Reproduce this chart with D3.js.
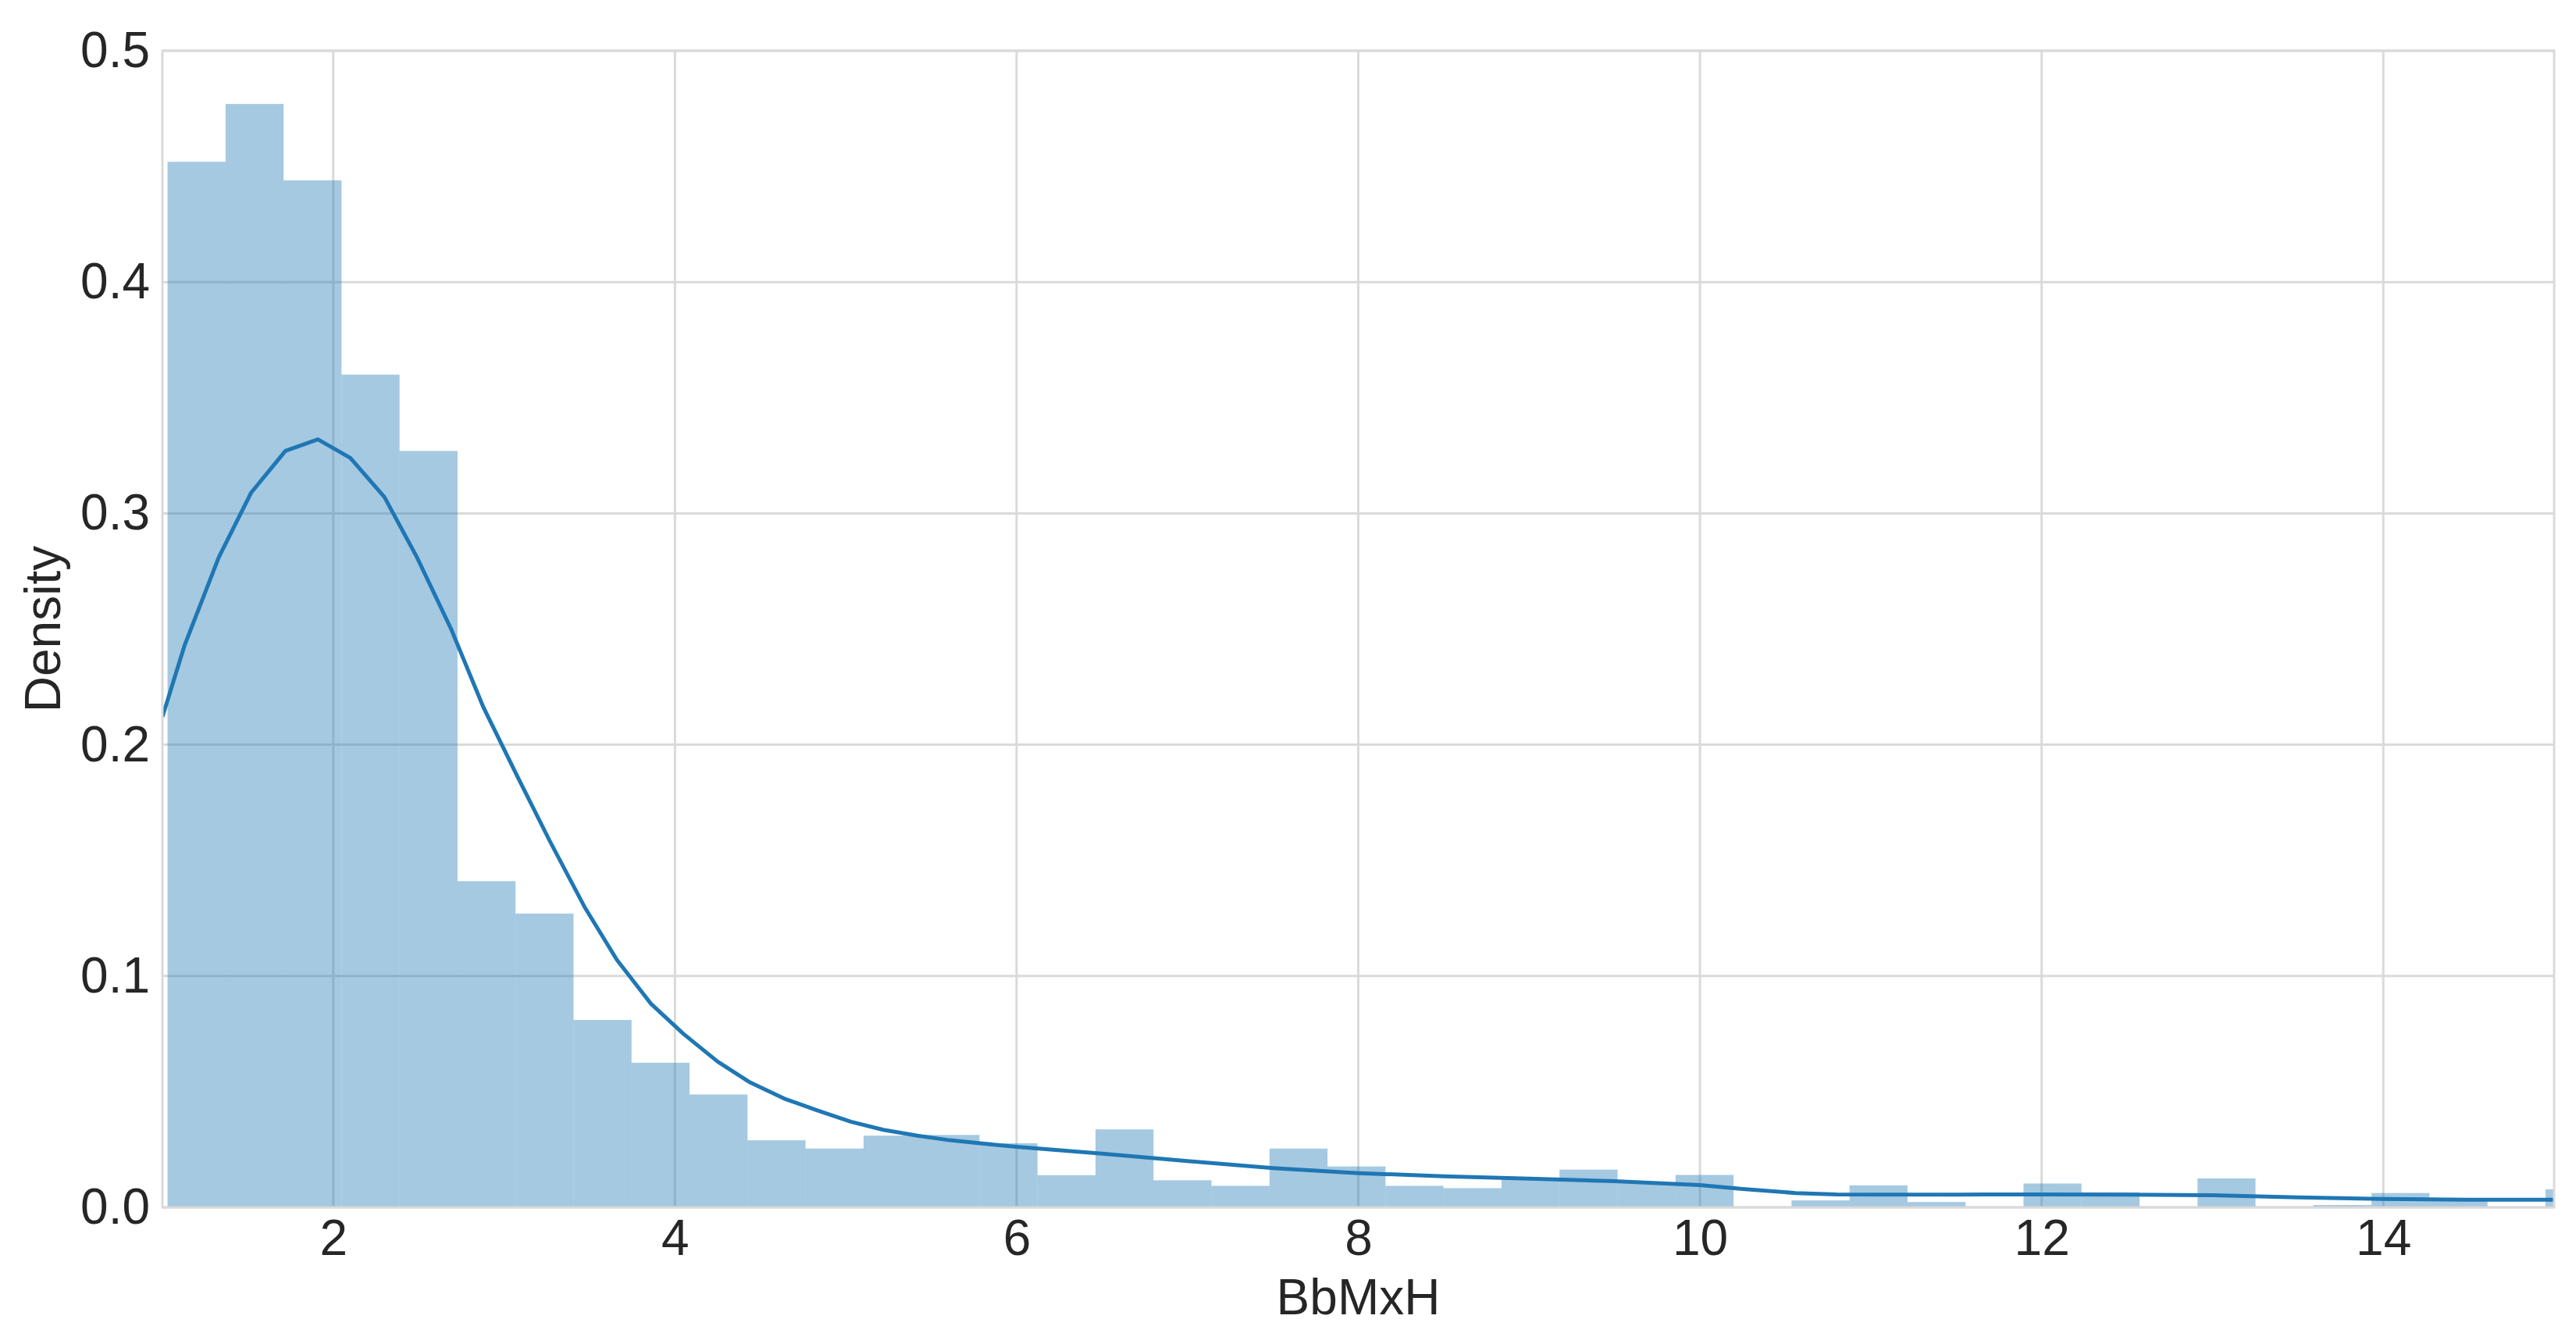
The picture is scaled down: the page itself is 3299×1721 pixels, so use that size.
<!DOCTYPE html>
<html>
<head>
<meta charset="utf-8">
<script src="https://cdn.jsdelivr.net/npm/d3@7"></script>
<style>
  body { margin: 0; background: #fff; }
  text { font-family: "Liberation Sans", Arial, sans-serif; fill: #262626; }
</style>
</head>
<body>
<script>
// histogram: equal-width bins starting at binStart
const binStart = 1.03;
const binWidth = 0.3395;
const binDensity = [
  0.452, 0.477, 0.444, 0.360, 0.327, 0.141, 0.127, 0.081, 0.0625, 0.0488,
  0.029, 0.0254, 0.031, 0.0313, 0.0277, 0.0139, 0.0337, 0.0117, 0.0093, 0.0254,
  0.0177, 0.0093, 0.0083, 0.012, 0.0163, 0.0105, 0.014, 0, 0.003, 0.0095,
  0.0023, 0, 0.0103, 0.0065, 0, 0.0125, 0, 0.001, 0.0062, 0.003,
  0, 0.0078
];

// kde curve
const kdeX = [1.0, 1.13, 1.33, 1.52, 1.72, 1.91, 2.10, 2.30, 2.49, 2.69, 2.88, 3.08,
  3.27, 3.47, 3.66, 3.86, 4.05, 4.25, 4.44, 4.64, 4.83, 5.03, 5.22, 5.42, 5.61, 5.81,
  6.0, 6.5, 7.0, 7.5, 8.0, 8.5, 9.0, 9.5, 10.0, 10.25, 10.56, 10.8, 11.5, 12.0, 12.5,
  13.0, 13.5, 14.0, 14.5, 15.0];
const kdeY = [0.212, 0.243, 0.281, 0.309, 0.327, 0.332, 0.324, 0.307, 0.281, 0.250, 0.216, 0.186,
  0.158, 0.130, 0.107, 0.088, 0.075, 0.063, 0.054, 0.047, 0.042, 0.037, 0.0335, 0.031, 0.029, 0.0275,
  0.0262, 0.0232, 0.0200, 0.0170, 0.0148, 0.0134, 0.0124, 0.0113, 0.0096, 0.0079, 0.0062, 0.0056, 0.0055, 0.0056, 0.0055,
  0.0052, 0.0043, 0.0036, 0.0033, 0.0033];

const xTicks = [2, 4, 6, 8, 10, 12, 14];
const yTicks = [0.0, 0.1, 0.2, 0.3, 0.4, 0.5];
const xLabel = 'BbMxH';
const yLabel = 'Density';

const W = 3299, H = 1721;
const m = { left: 208, right: 28, top: 65, bottom: 175 };
const iw = W - m.left - m.right;
const ih = H - m.top - m.bottom;

const x = d3.scaleLinear().domain([1, 15]).range([0, iw]);
const y = d3.scaleLinear().domain([0, 0.5]).range([ih, 0]);

const svg = d3.select('body').append('svg')
  .attr('width', W)
  .attr('height', H);

const g = svg.append('g')
  .attr('transform', 'translate(' + m.left + ',' + m.top + ')');

g.append('clipPath').attr('id', 'clip')
  .append('rect').attr('width', iw).attr('height', ih);

// grid
const gridColor = '#dadada';
g.append('g')
  .selectAll('line')
  .data(xTicks)
  .join('line')
  .attr('x1', (d) => x(d)).attr('x2', (d) => x(d))
  .attr('y1', 0).attr('y2', ih)
  .attr('stroke', gridColor).attr('stroke-width', 3);
g.append('g')
  .selectAll('line')
  .data(yTicks)
  .join('line')
  .attr('x1', 0).attr('x2', iw)
  .attr('y1', (d) => y(d)).attr('y2', (d) => y(d))
  .attr('stroke', gridColor).attr('stroke-width', 3);

// bars
g.append('g')
  .attr('clip-path', 'url(#clip)')
  .selectAll('rect')
  .data(binDensity)
  .join('rect')
  .attr('x', (d, i) => x(binStart + i * binWidth))
  .attr('width', (d, i) => x(binStart + (i + 1) * binWidth) - x(binStart + i * binWidth))
  .attr('y', (d) => y(d))
  .attr('height', (d) => ih - y(d))
  .attr('fill', '#1f77b4')
  .attr('fill-opacity', 0.4);

// kde line
const line = d3.line()
  .x((d) => x(d[0]))
  .y((d) => y(d[1]));
g.append('path')
  .attr('clip-path', 'url(#clip)')
  .datum(kdeX.map((v, i) => [v, kdeY[i]]))
  .attr('d', line)
  .attr('fill', 'none')
  .attr('stroke', '#1f77b4')
  .attr('stroke-width', 5)
  .attr('stroke-linejoin', 'round');

// frame
g.append('rect')
  .attr('width', iw).attr('height', ih)
  .attr('fill', 'none')
  .attr('stroke', gridColor)
  .attr('stroke-width', 3);

// axes
const xAxis = g.append('g')
  .attr('transform', 'translate(0,' + ih + ')')
  .call(d3.axisBottom(x).tickValues(xTicks).tickSize(0).tickPadding(16).tickFormat(d3.format('d')));
const yAxis = g.append('g')
  .call(d3.axisLeft(y).tickValues(yTicks).tickSize(0).tickPadding(16).tickFormat(d3.format('.1f')));
[xAxis, yAxis].forEach((a) => {
  a.select('.domain').remove();
  a.selectAll('text')
    .style('font-family', '"Liberation Sans", Arial, sans-serif')
    .style('font-size', '64px')
    .attr('fill', '#262626');
});

g.append('text')
  .attr('x', iw / 2)
  .attr('y', ih + 137)
  .attr('text-anchor', 'middle')
  .style('font-size', '64px')
  .text(xLabel);

g.append('text')
  .attr('transform', 'translate(' + (77 - m.left) + ',' + (ih / 2) + ') rotate(-90)')
  .attr('text-anchor', 'middle')
  .style('font-size', '64px')
  .text(yLabel);
</script>
</body>
</html>
